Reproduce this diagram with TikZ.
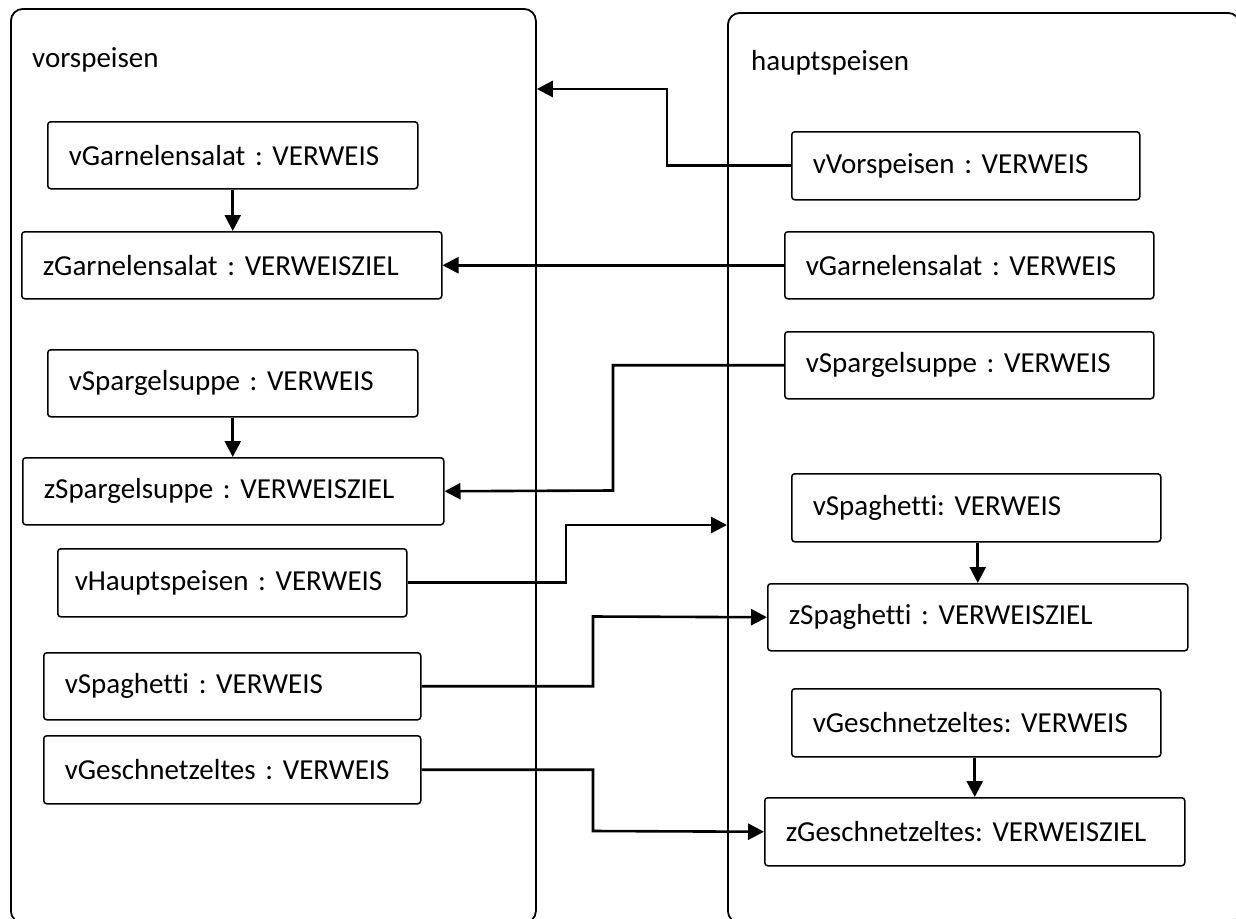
\documentclass[tikz,border=0pt]{standalone}
\usepackage{fontspec}
\setmainfont[Ligatures=NoCommon]{Carlito}
\usetikzlibrary{arrows.meta}
\frenchspacing
\hyphenpenalty=10000
\exhyphenpenalty=10000
\begin{document}
\begin{tikzpicture}[x=1pt,y=-1pt,
  bigbox/.style={draw, line width=1.8pt, rounded corners=12pt, anchor=north west, inner sep=0pt},
  title/.style={anchor=base west, inner sep=0pt, font=\fontsize{29}{34}\selectfont},
  item/.style={draw, line width=1.5pt, rounded corners=3pt, anchor=north west,
    inner xsep=21pt, inner ysep=0pt, align=left, font=\fontsize{29}{34}\selectfont},
  conn/.style={line width=2.6pt, -{Triangle[length=16pt,width=16pt]}}]
\useasboundingbox (0,0) rectangle (1236,918);
% containers
\node[bigbox, minimum width=525pt, minimum height=914pt] (vor) at (10,8) {};
\node[bigbox, minimum width=512pt, minimum height=910pt] (haupt) at (727,12) {};
\node[title] (tvor) at (32,67) {vorspeisen};
\node[title] (thaupt) at (751,70) {hauptspeisen};
% left items
\node[item, text width=328pt, minimum height=67pt] (vGL) at (47,121) {vGarnelensalat : VERWEIS};
\node[item, text width=378pt, minimum height=67pt] (zGL) at (21,231) {zGarnelensalat : VERWEISZIEL};
\node[item, text width=328pt, minimum height=67pt] (vSL) at (47,349) {vSpargelsuppe : VERWEIS};
\node[item, text width=379pt, minimum height=67pt] (zSL) at (22,457) {zSpargelsuppe : VERWEISZIEL};
\node[item, inner xsep=17pt, text width=315pt, minimum height=68pt] (vHL) at (57,548) {vHauptspeisen : VERWEIS};
\node[item, text width=335pt, minimum height=67pt] (vSpL) at (43,652) {vSpaghetti : VERWEIS};
\node[item, text width=335pt, minimum height=68pt] (vGeL) at (43,735) {vGeschnetzeltes : VERWEIS};
% right items
\node[item, text width=306pt, minimum height=68pt] (vV) at (791,131) {vVorspeisen : VERWEIS};
\node[item, text width=327pt, minimum height=67pt] (vGR) at (784,231) {vGarnelensalat : VERWEIS};
\node[item, text width=327pt, minimum height=67pt] (vSR) at (784,331) {vSpargelsuppe : VERWEIS};
\node[item, text width=327pt, minimum height=68pt] (vSpR) at (791,473) {vSpaghetti: VERWEIS};
\node[item, text width=378pt, minimum height=67pt] (zSp) at (767,583) {zSpaghetti : VERWEISZIEL};
\node[item, text width=327pt, minimum height=68pt] (vGeR) at (791,688) {vGeschnetzeltes: VERWEIS};
\node[item, text width=378pt, minimum height=68pt] (zGe) at (764,797) {zGeschnetzeltes: VERWEISZIEL};
% connector ends on containers
\coordinate (vorIn) at (vor.east |- 0,89);
\coordinate (hauptIn) at (haupt.west |- 0,525);
% connectors
\draw[conn] (vV.west) -| (667,89) -- (vorIn);
\draw[conn] (vGR.west) -- (zGL.east);
\draw[conn] (vSR.west) -| (613,490.5) -- (zSL.east);
\draw[conn] (vHL.east) -| (566,525) -- (hauptIn);
\draw[conn] (vSpL.east) -| (593,616.5) -- (zSp.west);
\draw[conn] (vGeL.east) -| (593,831) -- (zGe.west);
\draw[conn] (vGL.south) -- (vGL.south |- zGL.north);
\draw[conn] (vSL.south) -- (vSL.south |- zSL.north);
\draw[conn] (zSp.north |- vSpR.south) -- (zSp.north);
\draw[conn] (zGe.north |- vGeR.south) -- (zGe.north);
\end{tikzpicture}
\end{document}
